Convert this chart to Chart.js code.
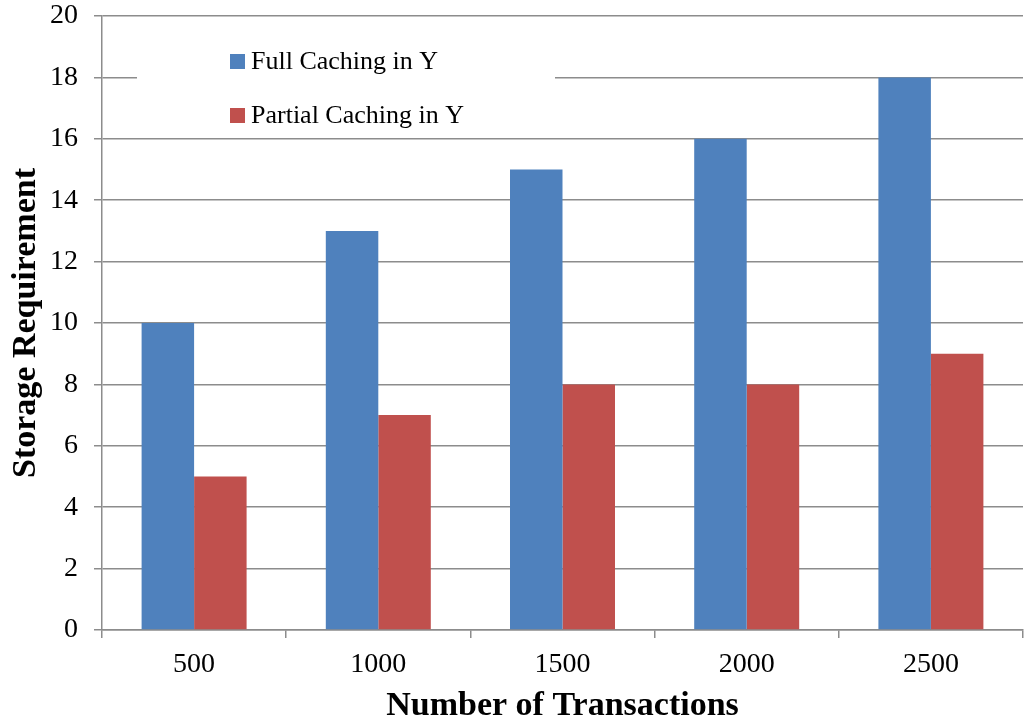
<!DOCTYPE html>
<html>
<head>
<meta charset="utf-8">
<script src="https://cdn.jsdelivr.net/npm/chart.js@4.4.0/dist/chart.umd.min.js"></script>
<style>
	html, body { margin: 0; padding: 0; background: #fff; }
	#wrap { width: 1026px; height: 723px; position: relative; }
</style>
</head>
<body>
<div id="wrap"><canvas id="storage-chart"></canvas></div>
<script>
// Chart data
var categories = ['500', '1000', '1500', '2000', '2500'];
var fullCaching = [10, 13, 15, 16, 18];
var partialCaching = [5, 7, 8, 8, 9];
var yTicks = [0, 2, 4, 6, 8, 10, 12, 14, 16, 18, 20];

var serif = '"Liberation Serif", "Times New Roman", serif';
var gridGray = '#8c8c8c';

// Legend drawn inside the plot area, over the gridlines
var boxLegend = {
	id: 'boxLegend',
	afterDatasetsDraw: function (chart) {
		var ctx = chart.ctx;
		ctx.save();
		ctx.fillStyle = '#fff';
		ctx.fillRect(137, 26, 418, 104);
		ctx.font = '26px ' + serif;
		ctx.textBaseline = 'middle';
		chart.data.datasets.forEach(function (ds, i) {
			var y = 62 + i * 54;
			ctx.fillStyle = ds.backgroundColor;
			ctx.fillRect(230, y - 8, 15, 15);
			ctx.fillStyle = '#000';
			ctx.fillText(ds.label, 251, y);
		});
		ctx.restore();
	},
};

var ctx = document.getElementById('storage-chart').getContext('2d');
new Chart(ctx, {
	type: 'bar',
	data: {
		labels: categories,
		datasets: [{
			label: 'Full Caching in Y',
			backgroundColor: '#4F81BD',
			data: fullCaching,
		}, {
			label: 'Partial Caching in Y',
			backgroundColor: '#C0504D',
			data: partialCaching,
		}],
	},
	options: {
		responsive: true,
		maintainAspectRatio: false,
		animation: false,
		datasets: {
			bar: {
				categoryPercentage: 0.57,
				barPercentage: 1.0,
			},
		},
		layout: {
			padding: { top: 16, right: 3, left: 0, bottom: 0 },
		},
		plugins: {
			legend: { display: false },
			tooltip: { enabled: false },
		},
		scales: {
			x: {
				grid: {
					offset: true,
					drawOnChartArea: false,
					drawTicks: true,
					tickLength: 8,
					color: gridGray,
					lineWidth: 1.5,
				},
				border: { color: gridGray, width: 1.5 },
				ticks: {
					color: '#000',
					padding: 10,
					font: { family: serif, size: 28 },
				},
				title: {
					display: true,
					text: 'Number of Transactions',
					color: '#000',
					font: { family: serif, size: 34, weight: 'bold', lineHeight: 1.0 },
					padding: { top: 0, bottom: 0 },
				},
				afterFit: function (scale) {
					scale.height = 93;
					scale.paddingLeft = 0;
					scale.paddingRight = 0;
				},
			},
			y: {
				min: 0,
				max: 20,
				afterBuildTicks: function (scale) {
					scale.ticks = yTicks.map(function (v) { return { value: v }; });
				},
				grid: {
					color: gridGray,
					lineWidth: 1.5,
					tickLength: 8,
				},
				border: { color: gridGray, width: 1.5 },
				ticks: {
					color: '#000',
					padding: 16,
					font: { family: serif, size: 28 },
				},
				title: {
					display: true,
					text: 'Storage Requirement',
					color: '#000',
					font: { family: serif, size: 34, weight: 'bold' },
					padding: { top: 6, bottom: 0 },
				},
				afterFit: function (scale) {
					scale.width = 102;
					scale.paddingTop = 0;
					scale.paddingBottom = 0;
				},
			},
		},
	},
	plugins: [boxLegend],
});
</script>
</body>
</html>
